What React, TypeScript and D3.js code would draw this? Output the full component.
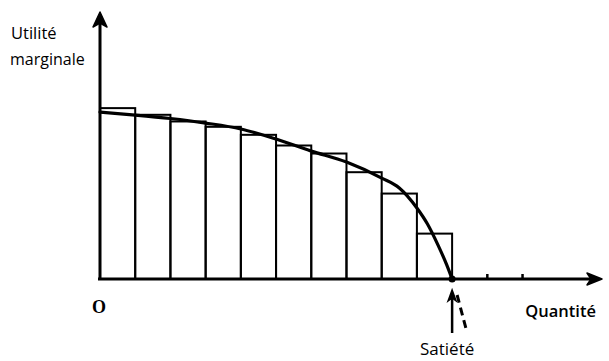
import { useEffect, useRef } from "react";
import * as d3 from "d3";

// Bar heights (marginal utility of each unit consumed), arbitrary units 0..100
const units = [1, 2, 3, 4, 5, 6, 7, 8, 9, 10];
const barValues = [64, 61.5, 59, 57, 54, 50, 47, 40, 32, 17];

// Smooth marginal utility curve: quantity / utility
const curveQty = [0, 1, 2, 3, 4, 5, 6, 7, 8, 8.5, 9, 9.3, 9.6, 9.85, 10];
const curveUtil = [62.5, 61.4, 60.1, 58.4, 56.2, 52.4, 47.9, 43.8, 37.8, 34.1, 26.6, 20.6, 12.7, 5.2, 0];

// Satiety point and the empty ticks after it
const satiety = 10;
const extraTicks = [11, 12];

const W = 609;
const H = 361;
const FONT = "'Open Sans', Lato, sans-serif";

function MarginalUtility() {
    const svgRef = useRef<SVGSVGElement>(null);

    useEffect(() => {
        const svg = d3.select(svgRef.current);
        svg.selectAll("*").remove();

        // scales
        const x = d3.scaleLinear().domain([0, 14.2]).range([100, 600]);
        const y = d3.scaleLinear().domain([0, 100]).range([279, 12]);

        const g = svg.append("g");

        // bars
        g.selectAll(".bar")
            .data(units)
            .enter()
            .append("rect")
            .attr("class", "bar")
            .attr("x", d => x(d - 1))
            .attr("width", d => x(d) - x(d - 1))
            .attr("y", (_, i) => y(barValues[i]))
            .attr("height", (_, i) => y(0) - y(barValues[i]))
            .attr("fill", "none")
            .attr("stroke", "#000")
            .attr("stroke-width", 2);

        // curve
        const pts: [number, number][] = curveQty.map((q, i) => [q, curveUtil[i]]);
        const line = d3.line<[number, number]>()
            .x(d => x(d[0]))
            .y(d => y(d[1]))
            .curve(d3.curveMonotoneX);
        g.append("path")
            .attr("d", line(pts))
            .attr("fill", "none")
            .attr("stroke", "#000")
            .attr("stroke-width", 3.2)
            .attr("stroke-linecap", "round");

        // axes
        const x0 = x(0), y0 = y(0), yTop = y(100), xEnd = x.range()[1];
        g.append("line")
            .attr("x1", x0).attr("x2", x0)
            .attr("y1", y0 + 1).attr("y2", yTop + 8)
            .attr("stroke", "#000").attr("stroke-width", 3);
        g.append("path")
            .attr("d", `M${x0},${yTop} L${x0 + 7},${yTop + 15} L${x0},${yTop + 11} L${x0 - 7},${yTop + 15} Z`)
            .attr("fill", "#000").attr("stroke", "#000").attr("stroke-width", 1.5)
            .attr("stroke-linejoin", "round");
        g.append("line")
            .attr("x1", x0 - 2).attr("x2", xEnd - 8)
            .attr("y1", y0).attr("y2", y0)
            .attr("stroke", "#000").attr("stroke-width", 3);
        g.append("path")
            .attr("d", `M${xEnd + 2},${y0} L${xEnd - 13},${y0 - 6} L${xEnd - 9},${y0} L${xEnd - 13},${y0 + 6} Z`)
            .attr("fill", "#000").attr("stroke", "#000").attr("stroke-width", 1.5)
            .attr("stroke-linejoin", "round");

        // small ticks beyond satiety
        g.selectAll(".tick")
            .data(extraTicks)
            .enter()
            .append("line")
            .attr("x1", d => x(d)).attr("x2", d => x(d))
            .attr("y1", y0).attr("y2", y0 - 5)
            .attr("stroke", "#000").attr("stroke-width", 2.5);

        // satiety dot
        const xs = x(satiety);
        g.append("circle")
            .attr("cx", xs).attr("cy", y0).attr("r", 3.5)
            .attr("fill", "#000");

        // satiety arrow (solid)
        g.append("line")
            .attr("x1", xs).attr("x2", xs)
            .attr("y1", y0 + 18).attr("y2", y0 + 54)
            .attr("stroke", "#000").attr("stroke-width", 2.5);
        g.append("path")
            .attr("d", `M${xs},${y0 + 11} L${xs + 4},${y0 + 22} L${xs},${y0 + 19} L${xs - 4},${y0 + 22} Z`)
            .attr("fill", "#000").attr("stroke", "#000").attr("stroke-width", 1.5);

        // dashed arrow
        g.append("line")
            .attr("x1", xs + 5).attr("x2", xs + 14)
            .attr("y1", y0 + 16).attr("y2", y0 + 50)
            .attr("stroke", "#000").attr("stroke-width", 3)
            .attr("stroke-dasharray", "8,5");

        // labels
        const txt = g.append("g").attr("font-family", FONT).attr("fill", "#000");
        txt.append("text").attr("x", 11).attr("y", 39).attr("font-size", 16.5).text("Utilité");
        txt.append("text").attr("x", 10).attr("y", 65).attr("font-size", 16).text("marginale");
        txt.append("text").attr("x", 596).attr("y", 317).attr("text-anchor", "end")
            .attr("font-size", 16.5).attr("font-weight", 600).text("Quantité");
        txt.append("text").attr("x", xs - 5).attr("y", 355).attr("text-anchor", "middle")
            .attr("font-size", 17).text("Satiété");
        g.append("text").attr("x", x0 - 1).attr("y", 313).attr("text-anchor", "middle")
            .attr("font-family", "'Liberation Serif', serif").attr("font-weight", "bold")
            .attr("font-size", 18).text("O");
    }, []);

    return (
        <svg ref={svgRef} width={W} height={H}
            style={{ position: "absolute", left: 0, top: 0, background: "#fff" }} />
    );
}

export default function App() {
    return <MarginalUtility />;
}
